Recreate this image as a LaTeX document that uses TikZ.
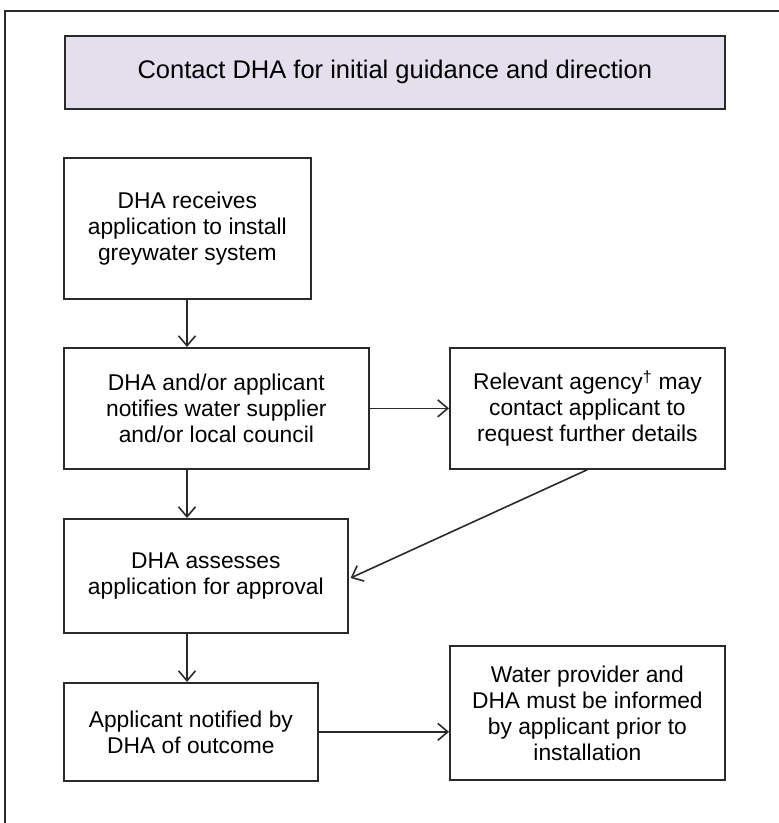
\documentclass[tikz,border=0pt]{standalone}
\usepackage{fontspec}
\setmainfont{Liberation Sans}
\usetikzlibrary{arrows.meta}
\definecolor{lav}{HTML}{E4DFEC}
\definecolor{edge}{HTML}{2A2A2A}
\begin{document}
\begin{tikzpicture}[x=1pt,y=-1pt,
  box/.style={draw=edge, line width=1.7pt, inner sep=0pt, anchor=north west,
    align=center, text=black, font=\fontsize{22.8}{26}\selectfont},
  arr/.style={draw=edge, line width=1.6pt, -{Straight Barb[length=10pt,width=17pt,line width=1.6pt]}}]
\useasboundingbox (0,0) rectangle (779,823);
\draw[edge, line width=1.5pt] (5,823) -- (5,11) -- (779,11);
\node[box, fill=lav, minimum width=660pt, minimum height=73pt, font=\fontsize{25.5}{29}\selectfont] (top) at (64,35) {Contact DHA for initial guidance and direction};
\node[box, minimum width=247pt, minimum height=141pt] (b1) at (63,157) {DHA receives\\application to install\\greywater system};
\node[box, minimum width=305pt, minimum height=121pt] (b2) at (63,347) {DHA and/or applicant\\notifies water supplier\\and/or local council};
\node[box, minimum width=275pt, minimum height=121pt] (b3) at (449,347) {Relevant agency\textsuperscript{†} may\\contact applicant to\\request further details};
\node[box, minimum width=284pt, minimum height=114pt] (b4) at (63,518) {DHA assesses\\application for approval};
\node[box, minimum width=254pt, minimum height=98pt] (b5) at (63,682) {Applicant notified by\\DHA of outcome};
\node[box, minimum width=275pt, minimum height=134pt] (b6) at (449,645) {Water provider and\\DHA must be informed\\by applicant prior to\\installation};
\coordinate (cx) at (187,0);
\draw[arr] (cx |- b1.south) -- (cx |- b2.north);
\draw[arr] (cx |- b2.south) -- (cx |- b4.north);
\draw[arr] (cx |- b4.south) -- (cx |- b5.north);
\draw[arr] (b2.east) -- (b3.west);
\draw[arr, shorten >=2pt] (b3.south) -- ([yshift=-3pt]b4.east);
\draw[arr] (b5.east) -- (b6.west |- b5.east);
\end{tikzpicture}
\end{document}
